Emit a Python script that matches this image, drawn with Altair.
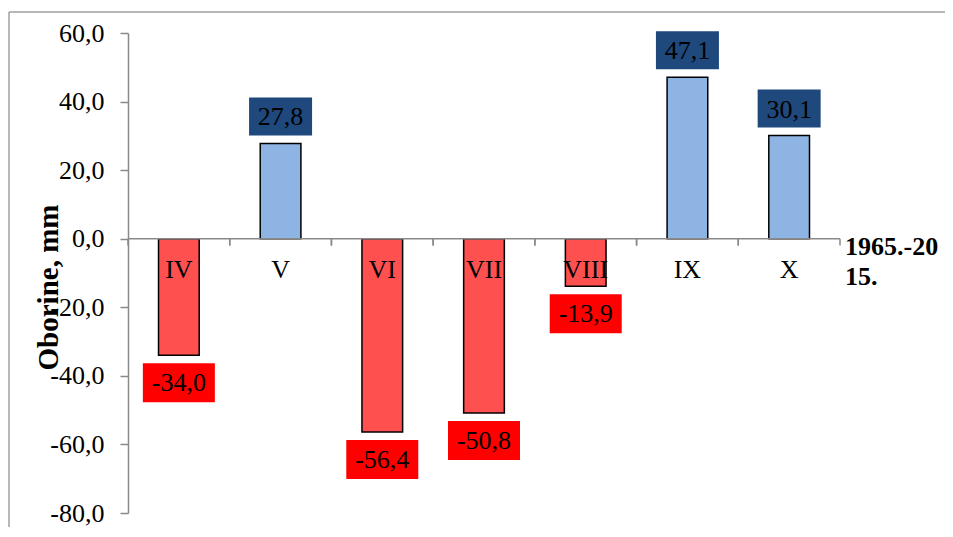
import altair as alt
import pandas as pd

# ---- data ----
months = ["IV", "V", "VI", "VII", "VIII", "IX", "X"]
values = [-34.0, 27.8, -56.4, -50.8, -13.9, 47.1, 30.1]
series_name = ["1965.-20", "15."]
y_title = "Oborine, mm"
y_ticks = [-80, -60, -40, -20, 0, 20, 40, 60]

df = pd.DataFrame({"month": months, "value": values})

# ---- styling ----
W, H = 712, 480
STEP = W / len(months)
FONT = "Liberation Serif"
GRAY = "#898989"
FS = 26
COMMA = "replace(replace(format(datum.value, '.1f'), '.', ','), '\u2212', '-')"

base = alt.Chart(df).transform_calculate(label=COMMA)
one = alt.Data(values=[{}])

xenc = alt.X("month:N", sort=months, axis=None,
             scale=alt.Scale(paddingInner=0.6, paddingOuter=0.3))
yscale = alt.Scale(domain=[-80, 60], nice=False, zero=True)

frame_left = alt.Chart(one).mark_rule(color="#A0A0A0", strokeWidth=1.5).encode(
    x=alt.value(-119), y=alt.value(-21), y2=alt.value(H + 60))
frame_top = alt.Chart(one).mark_rule(color="#A0A0A0", strokeWidth=1.5).encode(
    y=alt.value(-21), x=alt.value(-119), x2=alt.value(W + 200))

bars = base.mark_bar(stroke="black", strokeWidth=1.5).encode(
    x=xenc,
    y=alt.Y("value:Q", scale=yscale,
            axis=alt.Axis(values=y_ticks, title=y_title, grid=False,
                          labelExpr=COMMA, labelFont=FONT, labelFontSize=FS,
                          labelColor="black", labelPadding=16,
                          domainColor=GRAY, domainWidth=1.5,
                          tickColor=GRAY, tickWidth=1.5, tickSize=8,
                          titleFont=FONT, titleFontSize=29, titleFontWeight="bold",
                          titleColor="black", titleX=-80, titleY=254,
                          titleAlign="center", titleBaseline="middle")),
    color=alt.condition("datum.value > 0", alt.value("#8EB4E3"), alt.value("#FF5050")),
)

zero_line = alt.Chart(one).mark_rule(color=GRAY, strokeWidth=1.5).encode(
    y=alt.Y(datum=0), x=alt.value(0), x2=alt.value(W))

ticks_l = base.mark_rule(color=GRAY, strokeWidth=1.5, xOffset=-STEP / 2).encode(
    x=xenc, y=alt.Y(datum=0), y2=alt.Y2(datum=-2))
ticks_r = base.mark_rule(color=GRAY, strokeWidth=1.5, xOffset=STEP / 2).encode(
    x=xenc, y=alt.Y(datum=0), y2=alt.Y2(datum=-2))

cat_text = base.mark_text(font=FONT, fontSize=FS, yOffset=31, baseline="middle",
                          color="black").encode(
    x=xenc, y=alt.Y(datum=0), text="month:N")

pos = base.transform_filter("datum.value > 0")
neg = base.transform_filter("datum.value < 0")

pos_box = pos.mark_bar(fill="#1F497D", width=63, yOffset=-46, y2Offset=-8).encode(
    x=xenc, y="value:Q", y2="value")
neg_box = neg.mark_bar(fill="#FF0000", width=72, yOffset=8, y2Offset=47).encode(
    x=xenc, y="value:Q", y2="value")

pos_txt = pos.mark_text(font=FONT, fontSize=FS, yOffset=-26, baseline="middle",
                        color="black").encode(x=xenc, y="value:Q", text="label:N")
neg_txt = neg.mark_text(font=FONT, fontSize=FS, yOffset=28, baseline="middle",
                        color="black").encode(x=xenc, y="value:Q", text="label:N")

legend = alt.Chart(one).mark_text(font=FONT, fontSize=FS, fontWeight="bold",
                                  align="left", baseline="middle", lineHeight=30,
                                  color="black").encode(
    x=alt.value(717), y=alt.value(214), text=alt.value(series_name))

chart = alt.layer(
    frame_left, frame_top, bars, zero_line, ticks_l, ticks_r, cat_text,
    pos_box, neg_box, pos_txt, neg_txt, legend
).properties(
    width=W, height=H,
    autosize=alt.AutoSizeParams(type="none"),
    padding={"left": 120, "top": 25, "right": 105, "bottom": 14},
).configure_view(stroke=None)

chart.save("out.html", embed_options={"renderer": "svg", "actions": False})
